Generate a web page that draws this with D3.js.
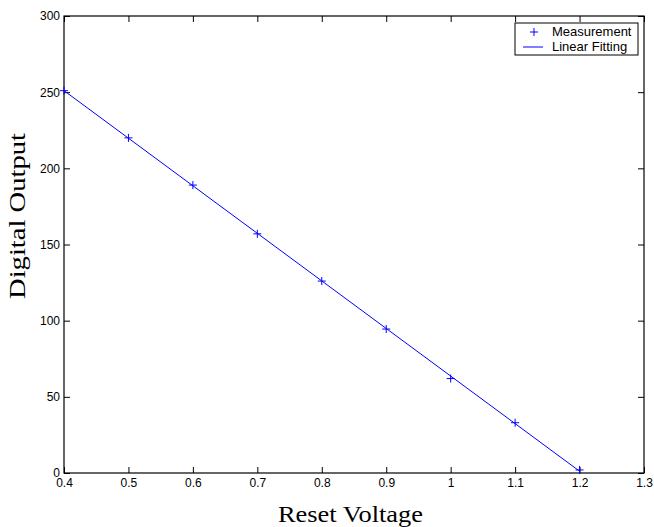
<!DOCTYPE html>
<html><head><meta charset="utf-8">
<script src="https://cdn.jsdelivr.net/npm/d3@7"></script>
<style>body{margin:0;background:#fff}svg{display:block}</style>
</head><body>
<svg id="c" width="654" height="527"></svg>
<script>
const measX = [0.4, 0.5, 0.6, 0.7, 0.8, 0.9, 1.0, 1.1, 1.2];
const measY = [251, 220, 189, 157, 126, 94.5, 62, 33, 2];
const fitX = [0.4, 1.2];
const fitY = [251.0, 1.2];
const xTicks = [0.4, 0.5, 0.6, 0.7, 0.8, 0.9, 1, 1.1, 1.2, 1.3];
const yTicks = [0, 50, 100, 150, 200, 250, 300];
const legendLabels = ["Measurement", "Linear Fitting"];

const svg = d3.select("#c");
const L = 64, R = 644, T = 16, B = 473;
const x = d3.scaleLinear().domain([0.4, 1.3]).range([L, R]);
const y = d3.scaleLinear().domain([0, 300]).range([B, T]);
const tickFont = "Liberation Sans, Arial, Helvetica, sans-serif";
const serif = "Liberation Serif, Times New Roman, serif";
const fmt = d => String(d);

const gx = svg.append("g").attr("transform", `translate(0,${B})`)
  .call(d3.axisBottom(x).tickValues(xTicks).tickFormat(fmt).tickSizeInner(-6).tickSizeOuter(0).tickPadding(8));
const gxt = svg.append("g").attr("transform", `translate(0,${T})`)
  .call(d3.axisTop(x).tickValues(xTicks).tickFormat("").tickSizeInner(-6).tickSizeOuter(0));
const gy = svg.append("g").attr("transform", `translate(${L},0)`)
  .call(d3.axisLeft(y).tickValues(yTicks).tickFormat(fmt).tickSizeInner(-6).tickSizeOuter(0).tickPadding(4));
const gyr = svg.append("g").attr("transform", `translate(${R},0)`)
  .call(d3.axisRight(y).tickValues(yTicks).tickFormat("").tickSizeInner(-6).tickSizeOuter(0));
[gx, gxt, gy, gyr].forEach(g => {
  g.select(".domain").remove();
  g.selectAll("line").attr("stroke", "#000").attr("stroke-width", 1);
  g.selectAll("text").attr("font-family", tickFont).attr("font-size", 12).attr("fill", "#000");
});
gx.selectAll("text").attr("dy", "0.71em").attr("y", 5);
gy.selectAll("text").attr("x", -4);

svg.append("rect").attr("x", L).attr("y", T).attr("width", R - L).attr("height", B - T)
  .attr("fill", "none").attr("stroke", "#000").attr("stroke-width", 1.2);

const line = d3.line().x(d => x(d[0])).y(d => y(d[1]));
svg.append("path").datum(fitX.map((v, i) => [v, fitY[i]]))
  .attr("d", line).attr("fill", "none").attr("stroke", "#0000ff").attr("stroke-width", 1);

const pm = 4;
svg.append("g").selectAll("path").data(measX.map((v, i) => [v, measY[i]])).join("path")
  .attr("d", d => `M${x(d[0]) - pm},${y(d[1])}H${x(d[0]) + pm}M${x(d[0])},${y(d[1]) - pm}V${y(d[1]) + pm}`)
  .attr("stroke", "#0000ff").attr("stroke-width", 1).attr("fill", "none");

// legend
const lg = svg.append("g");
lg.append("rect").attr("x", 515).attr("y", 23).attr("width", 123).attr("height", 32)
  .attr("fill", "#fff").attr("stroke", "#000").attr("stroke-width", 1);
lg.append("path").attr("d", `M530,32H538M534,28V36`).attr("stroke", "#0000ff").attr("fill", "none");
lg.append("path").attr("d", `M523,47H543`).attr("stroke", "#0000ff").attr("fill", "none");
lg.selectAll("text").data(legendLabels).join("text")
  .attr("x", 552).attr("y", (d, i) => 36 + i * 14.5)
  .attr("font-family", tickFont).attr("font-size", 13).attr("fill", "#000").text(d => d);

// axis titles
svg.append("text").attr("x", 350.5).attr("y", 522).attr("text-anchor", "middle")
  .attr("font-family", serif).attr("font-size", 23)
  .attr("textLength", 145).attr("lengthAdjust", "spacingAndGlyphs").text("Reset Voltage");
svg.append("text").attr("transform", `translate(25,216) rotate(-90)`).attr("text-anchor", "middle")
  .attr("font-family", serif).attr("font-size", 23)
  .attr("textLength", 166).attr("lengthAdjust", "spacingAndGlyphs").text("Digital Output");
</script>
</body></html>
